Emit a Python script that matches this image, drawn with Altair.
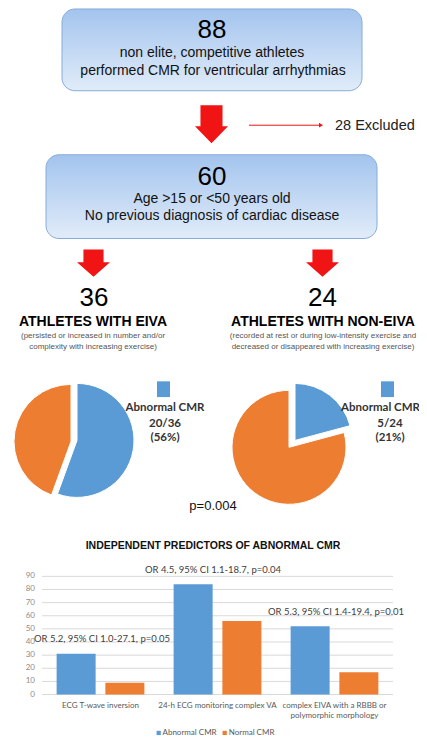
import altair as alt
import pandas as pd

# ---------------- data ----------------
screened = 88
included = 60
status_names = ["Abnormal CMR", "Normal CMR"]
pie_keys = ["EIVA", "NON-EIVA"]
group_titles = ["ATHLETES WITH EIVA", "ATHLETES WITH NON-EIVA"]
group_notes = [
    "(persisted or increased in number and/or\ncomplexity with increasing exercise)",
    "(recorded at rest or during low-intensity exercise and\ndecreased or disappeared with increasing exercise)",
]
abnormal_counts = [20, 5]
normal_counts = [16, 19]
p_value = "p=0.004"

bar_title = "INDEPENDENT PREDICTORS OF ABNORMAL CMR"
predictors = [
    "ECG T-wave inversion",
    "24-h ECG monitoring complex VA",
    "complex EIVA with a RBBB or\npolymorphic morphology",
]
abnormal_pct = [31, 84, 52]
normal_pct = [9, 56, 17]
odds_notes = [
    "OR 5.2, 95% CI 1.0-27.1, p=0.05",
    "OR 4.5, 95% CI 1.1-18.7, p=0.04",
    "OR 5.3, 95% CI 1.4-19.4, p=0.01",
]
y_ticks = [0, 10, 20, 30, 40, 50, 60, 70, 80, 90]

# ---------------- styles / layout (reference pixel positions) ----------------
BLUE = "#5b9bd5"
ORANGE = "#ed7d31"
RED = "#f01414"
SANS = "Liberation Sans"
CAL = "Lato"
W, H = 411, 733


def cx(X):
    return X - 8


def cy(Y):
    return (Y - 8) * 0.985


def text_layer(rows, size, weight="normal", color="#000000", font=SANS,
               align="center", baseline="middle", line_height=None):
    df = pd.DataFrame({
        "label": [r[0] for r in rows],
        "px": [cx(r[1]) for r in rows],
        "py": [cy(r[2]) for r in rows],
    })
    kw = dict(font=font, fontSize=size, fontWeight=weight, color=color,
              align=align, baseline=baseline)
    if line_height:
        kw.update(lineBreak="\n", lineHeight=line_height)
    return alt.Chart(df).mark_text(**kw).encode(
        x=alt.X("px:Q", scale=None, axis=None),
        y=alt.Y("py:Q", scale=None, axis=None),
        text="label:N",
    )


color_scale = alt.Scale(domain=status_names, range=[BLUE, ORANGE])

# flow boxes
gradient = alt.Gradient(
    gradient="linear",
    stops=[alt.GradientStop(color="#a3c4ee", offset=0),
           alt.GradientStop(color="#e1ecf9", offset=1)],
    x1=0, x2=0, y1=0, y2=1,
)
box_df = pd.DataFrame({
    "x0": [cx(62), cx(46)], "x1": [cx(362), cx(377)],
    "y0": [cy(9), cy(157)], "y1": [cy(92), cy(242)],
})
boxes = alt.Chart(box_df).mark_rect(
    cornerRadius=13, fill=gradient, stroke="#86acd9", strokeWidth=1
).encode(
    x=alt.X("x0:Q", scale=None, axis=None), x2="x1:Q",
    y=alt.Y("y0:Q", scale=None, axis=None), y2="y1:Q",
)

# block arrows
big_arrow = "M-0.58,-1 L0.58,-1 L0.58,0.1 L0.87,0.1 L0,1 L-0.87,0.1 L-0.58,0.1 Z"
small_arrow = "M-0.61,-0.83 L0.61,-0.83 L0.61,-0.06 L1,-0.06 L0,0.83 L-1,-0.06 L-0.61,-0.06 Z"


def arrow_layer(points, path, size):
    df = pd.DataFrame({"px": [cx(p[0]) for p in points], "py": [cy(p[1]) for p in points]})
    return alt.Chart(df).mark_point(
        shape=path, size=size, filled=True, color=RED, opacity=1, strokeWidth=0
    ).encode(x=alt.X("px:Q", scale=None, axis=None), y=alt.Y("py:Q", scale=None, axis=None))


arrows_big = arrow_layer([(211.5, 126)], big_arrow, 1444)
arrows_small = arrow_layer([(93.5, 267), (322.5, 267)], small_arrow, 1089)

excl_df = pd.DataFrame({"a": [cx(249)], "b": [cx(320)], "py": [cy(127)]})
excl_line = alt.Chart(excl_df).mark_rule(color=RED, strokeWidth=1).encode(
    x=alt.X("a:Q", scale=None, axis=None), x2="b:Q",
    y=alt.Y("py:Q", scale=None, axis=None),
)
excl_head = arrow_layer([(321, 127)], "triangle-right", 22)

# texts
t_big = text_layer([(str(screened), 212, 30), (str(included), 212, 179.5),
                    (str(abnormal_counts[0] + normal_counts[0]), 94, 302),
                    (str(abnormal_counts[1] + normal_counts[1]), 322.5, 302)], 26)
t_box = text_layer([("non elite, competitive athletes", 212, 54),
                    ("performed CMR for ventricular arrhythmias", 213, 72),
                    ("Age >15 or <50 years old", 212, 201.5),
                    ("No previous diagnosis of cardiac disease", 212, 219)], 14, color="#111111")
t_excl = text_layer([(f"{screened - included} Excluded", 335, 128)], 14.5, align="left", color="#222222")
t_head = text_layer([(group_titles[0], 93, 326.5), (group_titles[1], 323, 326.5)], 14, weight="bold")
t_note = text_layer([(group_notes[0], 93, 336.5), (group_notes[1], 323, 336.5)], 8,
                    color="#555555", baseline="top", line_height=11)
pie_lab_rows = []
for i, (lx, sx) in enumerate([(165, 165), (380.5, 390)]):
    tot = abnormal_counts[i] + normal_counts[i]
    pie_lab_rows += [(status_names[0], lx, 414),
                     (f"{abnormal_counts[i]}/{tot}", sx, 430),
                     (f"({round(100 * abnormal_counts[i] / tot)}%)", sx, 445)]
t_pie = text_layer(pie_lab_rows, 11.5, weight="bold", color="#333333", font=CAL)
t_p = text_layer([(p_value, 213, 514)], 13, color="#111111")
t_title = text_layer([(bar_title, 213, 554)], 10.5, weight="bold", color="#111111")
t_or = text_layer([(odds_notes[0], 102, 649), (odds_notes[1], 213, 579),
                   (odds_notes[2], 336, 621)], 9.5, color="#404040", font=CAL)

# pie legend squares
sq_df = pd.DataFrame({"x0": [cx(157), cx(381)], "x1": [cx(170), cx(394)],
                      "y0": [cy(387), cy(387)], "y1": [cy(403), cy(403)]})
pie_squares = alt.Chart(sq_df).mark_rect(color=BLUE).encode(
    x=alt.X("x0:Q", scale=None, axis=None), x2="x1:Q",
    y=alt.Y("y0:Q", scale=None, axis=None), y2="y1:Q",
)

# pies (slice centres include the exploded offset)
pie_centres = {("EIVA", "Abnormal CMR"): (77, 447), ("EIVA", "Normal CMR"): (71, 448),
               ("NON-EIVA", "Abnormal CMR"): (295, 447), ("NON-EIVA", "Normal CMR"): (289, 454)}
pie_radius = 57
rows = []
for i, key in enumerate(pie_keys):
    for j, (st, n) in enumerate(zip(status_names, [abnormal_counts[i], normal_counts[i]])):
        c = pie_centres[(key, st)]
        rows.append({"pie": key, "status": st, "n": n, "ord": j, "px": cx(c[0]), "py": cy(c[1])})
pie_df = pd.DataFrame(rows)
pies = alt.Chart(pie_df).transform_window(
    cum="sum(n)", groupby=["pie"], sort=[alt.SortField("ord")]
).transform_joinaggregate(
    tot="sum(n)", groupby=["pie"]
).transform_calculate(
    fs="(datum.cum - datum.n) / datum.tot", fe="datum.cum / datum.tot"
).mark_arc(radius=pie_radius, stroke="white", strokeWidth=1).encode(
    x=alt.X("px:Q", scale=None, axis=None),
    y=alt.Y("py:Q", scale=None, axis=None),
    theta=alt.Theta("fs:Q", scale=alt.Scale(domain=[0, 1], range=[0, 6.283185]), stack=None),
    theta2="fe:Q",
    color=alt.Color("status:N", scale=color_scale, legend=None),
)

# bar chart
bar_df = pd.DataFrame({
    "predictor": predictors * 2,
    "status": [status_names[0]] * 3 + [status_names[1]] * 3,
    "pct": abnormal_pct + normal_pct,
})
xband = alt.Scale(domain=predictors, range=[cx(42), cx(393)], paddingInner=0, paddingOuter=0)
yscale = alt.Scale(domain=[0, 90], range=[cy(705), cy(585)], nice=False)
bars = alt.Chart(bar_df).mark_bar().encode(
    x=alt.X("predictor:N", scale=xband, axis=None),
    xOffset=alt.XOffset("status:N", scale=alt.Scale(domain=status_names, paddingInner=0.2, paddingOuter=0.3)),
    y=alt.Y("pct:Q", scale=yscale, axis=None),
    color=alt.Color("status:N", scale=color_scale, legend=None),
)
tick_df = pd.DataFrame({"t": y_ticks})
grid = alt.Chart(tick_df).mark_rule(color="#d9d9d9", strokeWidth=1).encode(
    y=alt.Y("t:Q", scale=yscale, axis=None), x=alt.value(cx(42)), x2=alt.value(cx(393)),
)
tick_labels = alt.Chart(tick_df).mark_text(
    align="right", baseline="middle", font=CAL, fontSize=8, color="#8c8c8c"
).encode(y=alt.Y("t:Q", scale=yscale, axis=None), x=alt.value(cx(35)), text="t:Q")
cat_df = pd.DataFrame({"predictor": predictors})
cat_labels = alt.Chart(cat_df).mark_text(
    baseline="top", font=CAL, fontSize=8, color="#595959", lineBreak="\n", lineHeight=10.5
).encode(x=alt.X("predictor:N", scale=xband, axis=None), y=alt.value(cy(712.5)), text="predictor:N")

leg_df = pd.DataFrame({"status": status_names, "sx": [cx(158.7), cx(224.7)],
                       "tx": [cx(162.5), cx(228.7)], "py": [cy(744), cy(744)]})
leg_sq = alt.Chart(leg_df).mark_point(shape="square", filled=True, size=18, opacity=1).encode(
    x=alt.X("sx:Q", scale=None, axis=None), y=alt.Y("py:Q", scale=None, axis=None),
    color=alt.Color("status:N", scale=color_scale, legend=None),
)
leg_tx = alt.Chart(leg_df).mark_text(align="left", baseline="middle", font=CAL, fontSize=8, color="#595959").encode(
    x=alt.X("tx:Q", scale=None, axis=None), y=alt.Y("py:Q", scale=None, axis=None), text="status:N",
)

chart = alt.layer(
    boxes, arrows_big, arrows_small, excl_line, excl_head,
    t_big, t_box, t_excl, t_head, t_note,
    pies, pie_squares, t_pie, t_p, t_title,
    grid, bars, tick_labels, cat_labels, t_or, leg_sq, leg_tx,
).properties(
    width=W, height=H, autosize=alt.AutoSizeParams(type="none"), padding=0, background="white"
).configure_view(stroke=None)

chart.save("out.html", embed_options={"renderer": "svg", "actions": False})
